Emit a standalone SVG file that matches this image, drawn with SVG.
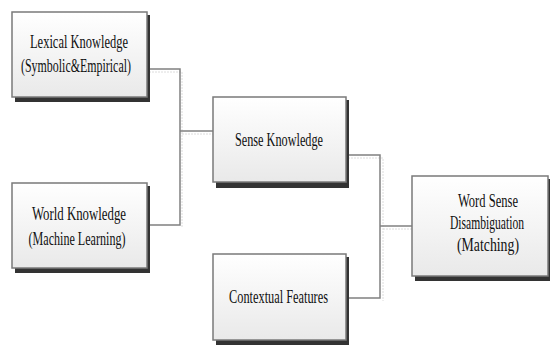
<svg xmlns="http://www.w3.org/2000/svg" width="550" height="345" viewBox="0 0 550 345">
<style>
.box{fill:url(#g);stroke:#7a7a7a;stroke-width:1.5}
.sh{fill:#333}
.t{font-family:"Liberation Serif","DejaVu Serif","Times New Roman",serif;font-size:19px;fill:#111;text-anchor:middle}
.c{fill:none;stroke:#808080;stroke-width:1.5}
.cs{fill:none;stroke:#dcdcdc;stroke-width:1;stroke-dasharray:2 1}
</style>
<defs>
<linearGradient id="g" x1="0" y1="0" x2="0" y2="1">
<stop offset="0" stop-color="#ffffff"/>
<stop offset="1" stop-color="#e9e9e9"/>
</linearGradient>
</defs>
<rect width="550" height="345" fill="#fff"/>
<g id="connectors">
<path class="cs" d="M149 72H182V228"/>
<path class="cs" d="M182 134H213"/>
<path class="cs" d="M348 158H383V301"/>
<path class="cs" d="M383 229H412"/>
<path class="c" d="M147 69H180V225H147"/>
<path class="c" d="M180 131H213"/>
<path class="c" d="M346 155H380V298H346"/>
<path class="c" d="M380 226H412"/>
</g>
<g id="lexical">
<rect class="sh" x="15" y="15" width="135" height="87"/>
<rect class="box" x="12" y="12" width="135" height="85"/>
<text class="t" x="79" y="48" textLength="98" lengthAdjust="spacingAndGlyphs">Lexical Knowledge</text>
<text class="t" x="76" y="72" textLength="110" lengthAdjust="spacingAndGlyphs">(Symbolic&amp;Empirical)</text>
</g>
<g id="world">
<rect class="sh" x="15" y="186" width="135" height="87"/>
<rect class="box" x="12" y="183" width="135" height="85"/>
<text class="t" x="79" y="220" textLength="94" lengthAdjust="spacingAndGlyphs">World Knowledge</text>
<text class="t" x="77" y="245" textLength="97" lengthAdjust="spacingAndGlyphs">(Machine Learning)</text>
</g>
<g id="sense">
<rect class="sh" x="216" y="100" width="133" height="88"/>
<rect class="box" x="213" y="97" width="133" height="85"/>
<text class="t" x="279" y="146" textLength="88" lengthAdjust="spacingAndGlyphs">Sense Knowledge</text>
</g>
<g id="contextual">
<rect class="sh" x="216" y="257" width="133" height="88"/>
<rect class="box" x="213" y="254" width="133" height="86"/>
<text class="t" x="278.5" y="303" textLength="99" lengthAdjust="spacingAndGlyphs">Contextual Features</text>
</g>
<g id="wsd">
<rect class="sh" x="415" y="179" width="135" height="102"/>
<rect class="box" x="412" y="176" width="136" height="100"/>
<text class="t" x="488" y="207" textLength="60" lengthAdjust="spacingAndGlyphs">Word Sense</text>
<text class="t" x="487" y="229" textLength="74" lengthAdjust="spacingAndGlyphs">Disambiguation</text>
<text class="t" x="488" y="251" textLength="62" lengthAdjust="spacingAndGlyphs">(Matching)</text>
</g>
</svg>
